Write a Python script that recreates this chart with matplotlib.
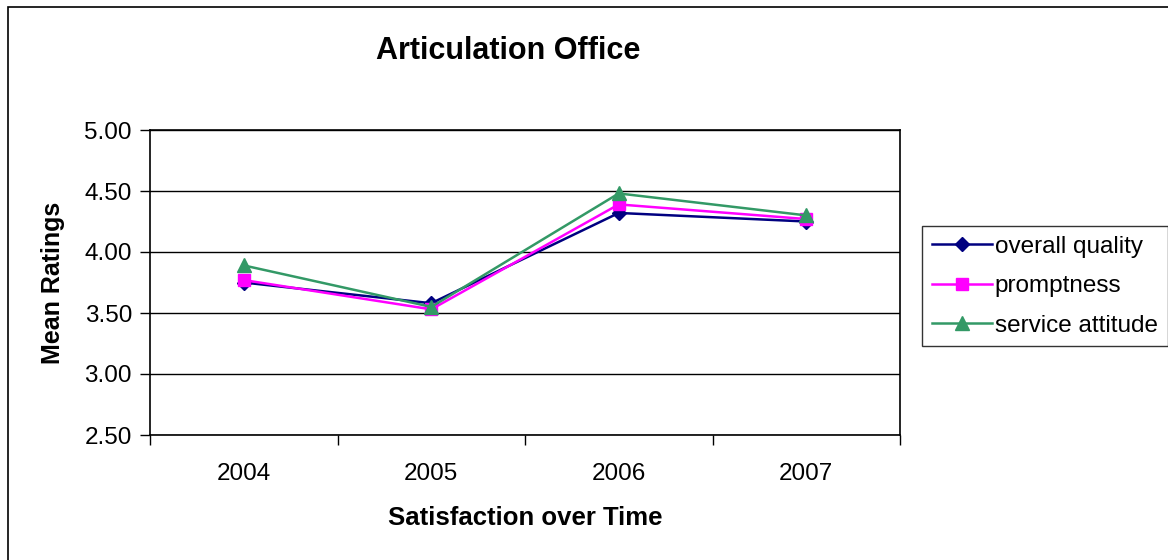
import numpy as np
import matplotlib.pyplot as plt
from matplotlib.patches import Rectangle

plt.rcParams['font.family'] = ['Liberation Sans', 'DejaVu Sans']

# mean ratings per year
years = ['2004', '2005', '2006', '2007']
overall_quality = [3.75, 3.58, 4.32, 4.25]
promptness = [3.77, 3.53, 4.39, 4.27]
service_attitude = [3.89, 3.55, 4.48, 4.30]

fig = plt.figure(figsize=(11.68, 5.6), dpi=100)
ax = fig.add_axes([150 / 1168, 1 - 435 / 560, 750 / 1168, 305 / 560])

x = np.arange(len(years))
ax.plot(x, overall_quality, color='#000080', marker='D', markersize=7, lw=1.8, label='overall quality')
ax.plot(x, promptness, color='#FF00FF', marker='s', markersize=8, lw=1.8, label='promptness')
ax.plot(x, service_attitude, color='#339966', marker='^', markersize=10, lw=1.8, label='service attitude')

ax.set_xlim(-0.5, 3.5)
ax.set_ylim(2.5, 5.0)
ax.set_yticks(np.arange(2.5, 5.01, 0.5))
ax.set_yticklabels(['%.2f' % v for v in np.arange(2.5, 5.01, 0.5)], fontsize=17.5)
ax.set_xticks(x)
ax.set_xticklabels(years, fontsize=17.5)
ax.set_xticks(np.arange(-0.5, 3.6, 1), minor=True)
ax.tick_params(axis='x', which='major', length=0, pad=20)
ax.tick_params(axis='x', which='minor', length=7, width=1, direction='out')
ax.tick_params(axis='y', length=7, width=1, direction='out', pad=6)
ax.yaxis.grid(True, color='black', lw=1)
ax.set_axisbelow(True)
for s in ax.spines.values():
    s.set_color('black')
    s.set_linewidth(1.2)

ax.set_ylabel('Mean Ratings', fontsize=18, fontweight='bold', labelpad=14)
ax.set_xlabel('Satisfaction over Time', fontsize=18.5, fontweight='bold', labelpad=15)
fig.text(508 / 1168, 1 - 51 / 560, 'Articulation Office', fontsize=22, fontweight='bold',
         ha='center', va='center')

leg = fig.legend(loc='upper left', bbox_to_anchor=(922 / 1168, 1 - 226 / 560),
                 fontsize=17.5, frameon=True, fancybox=False, edgecolor='black',
                 handlelength=2.5, handletextpad=0.1, borderpad=0.4, labelspacing=0.72,
                 borderaxespad=0, handleheight=0.7)
leg.get_frame().set_linewidth(1)

# outer chart border
fig.patches.append(Rectangle((8 / 1168, -0.02), 1.0, 1.02 - 7 / 560, transform=fig.transFigure,
                             fill=False, edgecolor='black', lw=1.2))

fig.savefig('out.png', dpi=100)
